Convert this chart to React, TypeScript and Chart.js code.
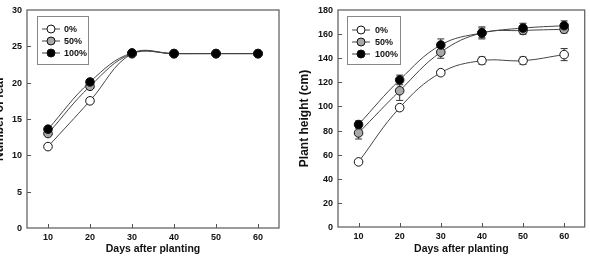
import React, { useEffect, useRef } from "react";
import { Chart, registerables } from "chart.js";
Chart.register(...registerables);

const days = [10, 20, 30, 40, 50, 60];
const seriesNames = ["0%", "50%", "100%"];
const leaf0 = [11.2, 17.5, 24, 24, 24, 24];
const leaf50 = [13.0, 19.5, 24, 24, 24, 24];
const leaf100 = [13.6, 20.1, 24.1, 24, 24, 24];
const height0 = [54, 99, 128, 138, 138, 143];
const height50 = [78, 113, 145, 161, 163, 164];
const height100 = [85, 122, 151, 161, 165, 167];
const heightErr0 = [1.5, 2, 2, 3, 3, 5];
const heightErr50 = [5, 8, 5, 4, 3, 3];
const heightErr100 = [3, 4, 5, 5, 4, 4];
const xTicks = [10, 20, 30, 40, 50, 60];
const leafTicks = [0, 5, 10, 15, 20, 25, 30];
const heightTicks = [0, 20, 40, 60, 80, 100, 120, 140, 160, 180];
const xTitle = "Days after planting";
const leafTitle = "Number of leaf";
const heightTitle = "Plant height (cm)";

const FONT = "'Liberation Sans', Arial, sans-serif";
const fills = ["#ffffff", "#a8a8a8", "#000000"];
const LINE = "#444";

type Cfg = {
  yWidth: number;
  xHeight: number;
  padRight: number;
  yMax: number;
  yTicks: number[];
  yTitle: string;
  yTitleX: number;
  series: number[][];
  errors?: number[][];
  legend: { x: number; y: number; w: number; h: number; lineX0: number; lineX1: number; textX: number; rows: number[] };
};

function makeChart(canvas: HTMLCanvasElement, cfg: Cfg) {
  const datasets = cfg.series.map((vals, i) => ({
    label: seriesNames[i],
    data: days.map((d, j) => ({ x: d, y: vals[j] })),
    borderColor: LINE,
    borderWidth: 1,
    backgroundColor: fills[i],
    pointBackgroundColor: fills[i],
    pointBorderColor: "#111",
    pointBorderWidth: 1,
    pointRadius: 4.3,
    tension: 0.4,
    order: 3 - i,
  }));

  const plugin = {
    id: "decor",
    beforeDatasetsDraw(chart: any) {
      if (!cfg.errors) return;
      const ctx = chart.ctx;
      const xs = chart.scales.x;
      const ys = chart.scales.y;
      ctx.save();
      ctx.strokeStyle = "#333";
      ctx.lineWidth = 1;
      cfg.errors.forEach((errs, i) => {
        errs.forEach((e, j) => {
          const v = cfg.series[i][j];
          const px = xs.getPixelForValue(days[j]);
          const y1 = ys.getPixelForValue(v + e);
          const y2 = ys.getPixelForValue(v - e);
          ctx.beginPath();
          ctx.moveTo(px, y1);
          ctx.lineTo(px, y2);
          ctx.moveTo(px - 3.5, y1);
          ctx.lineTo(px + 3.5, y1);
          ctx.moveTo(px - 3.5, y2);
          ctx.lineTo(px + 3.5, y2);
          ctx.stroke();
        });
      });
      ctx.restore();
    },
    afterDraw(chart: any) {
      const ctx = chart.ctx;
      const { left, right, top, bottom } = chart.chartArea;
      const xs = chart.scales.x;
      const ys = chart.scales.y;
      ctx.save();
      ctx.strokeStyle = "#666";
      ctx.lineWidth = 1.3;
      ctx.strokeRect(left, top, right - left, bottom - top);
      ctx.lineWidth = 1;
      ctx.strokeStyle = "#555";
      ctx.beginPath();
      xTicks.forEach((t) => {
        const px = Math.round(xs.getPixelForValue(t)) + 0.5;
        ctx.moveTo(px, bottom);
        ctx.lineTo(px, bottom - 4);
      });
      cfg.yTicks.forEach((t) => {
        const py = Math.round(ys.getPixelForValue(t)) + 0.5;
        if (t === 0 || t === cfg.yMax) return;
        ctx.moveTo(left, py);
        ctx.lineTo(left + 4, py);
      });
      ctx.stroke();

      // y tick labels
      ctx.fillStyle = "#111";
      ctx.font = `bold 9px ${FONT}`;
      ctx.textAlign = "right";
      ctx.textBaseline = "middle";
      cfg.yTicks.forEach((t) => {
        const py = ys.getPixelForValue(t) + 0.5;
        ctx.fillText(String(t), left - 5, py);
      });

      // titles
      ctx.font = `bold 10.5px ${FONT}`;
      ctx.textAlign = "center";
      ctx.textBaseline = "middle";
      ctx.fillText(xTitle, (left + right) / 2, 249);
      ctx.save();
      ctx.translate(cfg.yTitleX, (top + bottom) / 2);
      ctx.rotate(-Math.PI / 2);
      ctx.font = `bold 12px ${FONT}`;
      ctx.fillText(cfg.yTitle, 0, 0);
      ctx.restore();

      // legend
      const L = cfg.legend;
      ctx.strokeStyle = "#888";
      ctx.lineWidth = 1;
      ctx.strokeRect(L.x + 0.5, L.y + 0.5, L.w, L.h);
      ctx.font = `bold 9px ${FONT}`;
      ctx.textAlign = "left";
      L.rows.forEach((ry, i) => {
        ctx.strokeStyle = LINE;
        ctx.beginPath();
        ctx.moveTo(L.lineX0, ry);
        ctx.lineTo(L.lineX1, ry);
        ctx.stroke();
        ctx.beginPath();
        ctx.arc((L.lineX0 + L.lineX1) / 2, ry, 4, 0, Math.PI * 2);
        ctx.fillStyle = fills[i];
        ctx.fill();
        ctx.strokeStyle = "#111";
        ctx.stroke();
        ctx.fillStyle = "#111";
        ctx.fillText(seriesNames[i], L.textX, ry + 0.5);
      });
      ctx.restore();
    },
  };

  return new Chart(canvas, {
    type: "line",
    data: { datasets },
    plugins: [plugin],
    options: {
      animation: false,
      responsive: false,
      maintainAspectRatio: false,
      layout: { padding: { left: 0, right: cfg.padRight, top: 10, bottom: 0 } },
      plugins: { legend: { display: false }, tooltip: { enabled: false } },
      scales: {
        x: {
          type: "linear",
          min: 5,
          max: 65,
          afterBuildTicks: (s: any) => {
            s.ticks = xTicks.map((v) => ({ value: v }));
          },
          afterFit: (s: any) => {
            s.height = cfg.xHeight;
          },
          grid: { display: false, drawTicks: false, tickLength: 0 },
          border: { display: false },
          ticks: { autoSkip: false, padding: 4, color: "#111", font: { family: FONT, size: 9, weight: "bold" }, maxRotation: 0 },
        },
        y: {
          type: "linear",
          min: 0,
          max: cfg.yMax,
          afterBuildTicks: (s: any) => {
            s.ticks = cfg.yTicks.map((v) => ({ value: v }));
          },
          afterFit: (s: any) => {
            s.width = cfg.yWidth;
          },
          grid: { display: false, drawTicks: false, tickLength: 0 },
          border: { display: false },
          ticks: { display: false },
        },
      },
    },
  } as any);
}

export default function App() {
  const leftRef = useRef<HTMLCanvasElement>(null);
  const rightRef = useRef<HTMLCanvasElement>(null);

  useEffect(() => {
    const c1 = makeChart(leftRef.current!, {
      yWidth: 27,
      xHeight: 29,
      padRight: 11,
      yMax: 30,
      yTicks: leafTicks,
      yTitle: leafTitle,
      yTitleX: 0,
      series: [leaf0, leaf50, leaf100],
      legend: { x: 37, y: 16, w: 51, h: 48, lineX0: 42, lineX1: 60, textX: 64, rows: [29, 41, 53] },
    });
    const c2 = makeChart(rightRef.current!, {
      yWidth: 48,
      xHeight: 30,
      padRight: 2,
      yMax: 180,
      yTicks: heightTicks,
      yTitle: heightTitle,
      yTitleX: 15,
      series: [height0, height50, height100],
      errors: [heightErr0, heightErr50, heightErr100],
      legend: { x: 57, y: 16, w: 53, h: 48, lineX0: 62, lineX1: 80, textX: 85, rows: [30, 42, 54] },
    });
    return () => {
      c1.destroy();
      c2.destroy();
    };
  }, []);

  return (
    <div style={{ position: "absolute", left: 0, top: 0, width: 590, height: 257, background: "#fff" }}>
      <canvas ref={leftRef} width={290} height={257} style={{ position: "absolute", left: 0, top: 0, width: 290, height: 257 }} />
      <canvas ref={rightRef} width={300} height={257} style={{ position: "absolute", left: 290, top: 0, width: 300, height: 257 }} />
    </div>
  );
}
